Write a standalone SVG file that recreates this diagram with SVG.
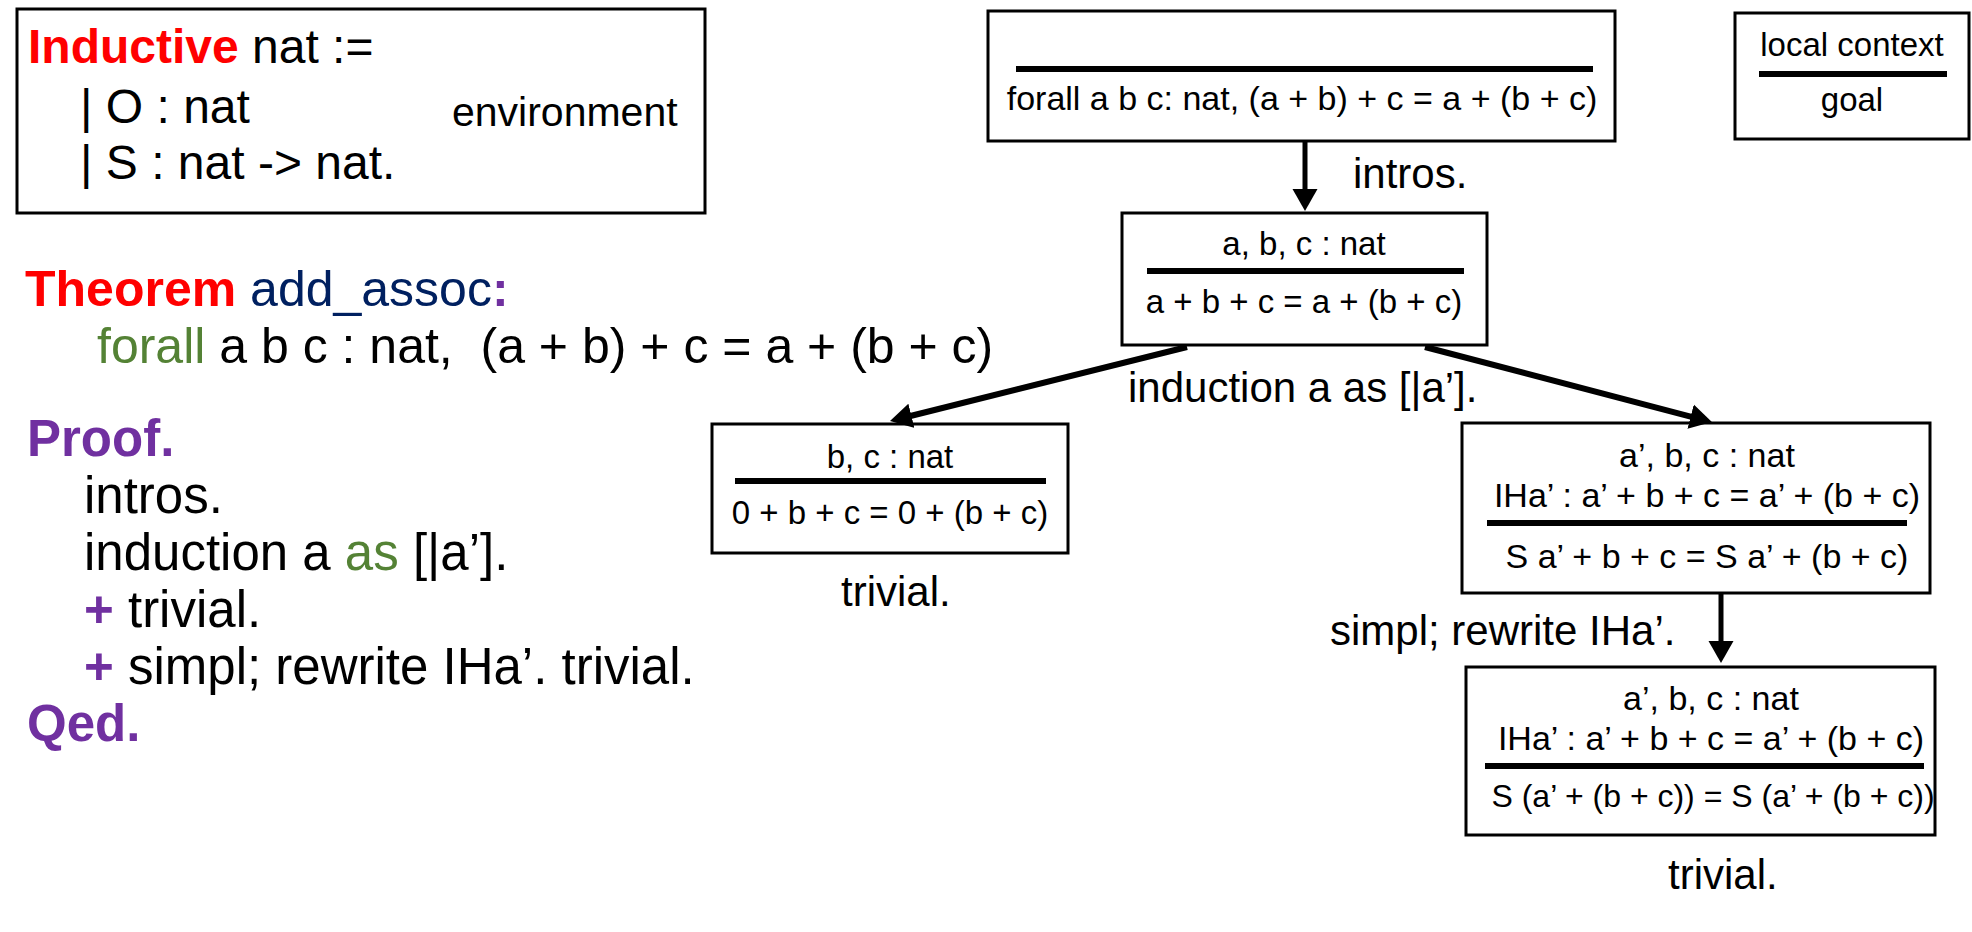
<svg xmlns="http://www.w3.org/2000/svg" width="1972" height="932" viewBox="0 0 1972 932">
<style>
  text { font-family: "Liberation Sans", Arial, sans-serif; fill: #000; }
  .env { font-size: 48px; }
  .envlbl { font-size: 41px; }
  .code { font-size: 51px; }
  .thm { font-size: 50px; }
  .box { fill: #fff; stroke: #000; stroke-width: 3; }
  .sep { stroke: #000; stroke-width: 6; }
  .bt { font-size: 33px; text-anchor: middle; }
  .bt2 { font-size: 34px; text-anchor: middle; }
  .lbl { font-size: 42px; }
  .red { fill: #FF0000; font-weight: bold; }
  .navy { fill: #002060; }
  .purple { fill: #7030A0; font-weight: bold; }
  .green { fill: #548235; }
  .edge { stroke: #000; fill: none; }
</style>
<defs>
  <marker id="ah" markerUnits="userSpaceOnUse" markerWidth="23" markerHeight="27" refX="1" refY="13" orient="auto">
    <path d="M0,0.5 L22,13 L0,25.5 z" fill="#000"/>
  </marker>
</defs>

<g id="environment">
  <rect class="box" x="17" y="9" width="688" height="204"/>
  <text class="env" x="28" y="63"><tspan class="red">Inductive</tspan> nat :=</text>
  <text class="env" x="80" y="123">| O : nat</text>
  <text class="env" x="80" y="179">| S : nat -&gt; nat.</text>
  <text class="envlbl" x="452" y="126">environment</text>
</g>

<g id="script">
  <text class="thm" x="25" y="306"><tspan class="red">Theorem</tspan> <tspan class="navy">add_assoc</tspan><tspan class="purple">:</tspan></text>
  <text class="thm" x="97" y="363"><tspan class="green">forall</tspan> a b c : nat,&#160; (a + b) + c = a + (b + c)</text>
  <text class="code" x="27" y="456"><tspan class="purple">Proof.</tspan></text>
  <text class="code" x="84" y="513">intros.</text>
  <text class="code" x="84" y="570">induction a <tspan class="green">as</tspan> [|a’].</text>
  <text class="code" x="84" y="627"><tspan class="purple">+</tspan> trivial.</text>
  <text class="code" x="84" y="684"><tspan class="purple">+</tspan> simpl; rewrite IHa’. trivial.</text>
  <text class="code" x="27" y="741"><tspan class="purple">Qed.</tspan></text>
</g>

<g id="legend">
  <rect class="box" x="1735" y="13" width="234" height="126"/>
  <text class="bt" x="1852" y="56">local context</text>
  <line class="sep" x1="1759" y1="74" x2="1947" y2="74"/>
  <text class="bt" x="1852" y="111">goal</text>
</g>

<g id="goal0">
  <rect class="box" x="988" y="11" width="627" height="130"/>
  <line class="sep" x1="1016" y1="69" x2="1593" y2="69"/>
  <text class="bt" x="1302" y="110" style="font-size:34px">forall a b c: nat, (a + b) + c = a + (b + c)</text>
</g>

<g id="goal1">
  <rect class="box" x="1122" y="213" width="365" height="132"/>
  <text class="bt" x="1304" y="255">a, b, c : nat</text>
  <line class="sep" x1="1147" y1="271" x2="1464" y2="271"/>
  <text class="bt" x="1304" y="313">a + b + c = a + (b + c)</text>
</g>

<g id="goal_base">
  <rect class="box" x="712" y="424" width="356" height="129"/>
  <text class="bt" x="890" y="468">b, c : nat</text>
  <line class="sep" x1="735" y1="481" x2="1046" y2="481"/>
  <text class="bt" x="890" y="524">0 + b + c = 0 + (b + c)</text>
</g>

<g id="goal_step">
  <rect class="box" x="1462" y="423" width="468" height="170"/>
  <text class="bt2" x="1707" y="467">a’, b, c : nat</text>
  <text class="bt2" x="1707" y="507">IHa’ : a’ + b + c = a’ + (b + c)</text>
  <line class="sep" x1="1487" y1="523" x2="1907" y2="523"/>
  <text class="bt2" x="1707" y="568">S a’ + b + c = S a’ + (b + c)</text>
</g>

<g id="goal_step2">
  <rect class="box" x="1466" y="667" width="469" height="168"/>
  <text class="bt2" x="1711" y="710">a’, b, c : nat</text>
  <text class="bt2" x="1711" y="750">IHa’ : a’ + b + c = a’ + (b + c)</text>
  <line class="sep" x1="1485" y1="766" x2="1924" y2="766"/>
  <text class="bt" x="1713" y="807" style="font-size:32px">S (a’ + (b + c)) = S (a’ + (b + c))</text>
</g>

<g id="connectors">
  <line class="edge" x1="1305" y1="141" x2="1305" y2="190" stroke-width="5" marker-end="url(#ah)"/>
  <line class="edge" x1="1187" y1="347" x2="910.4" y2="416" stroke-width="6" marker-end="url(#ah)"/>
  <line class="edge" x1="1425" y1="347" x2="1691.6" y2="416.8" stroke-width="6" marker-end="url(#ah)"/>
  <line class="edge" x1="1721" y1="593" x2="1721" y2="642" stroke-width="5" marker-end="url(#ah)"/>
</g>

<g id="labels">
  <text class="lbl" x="1353" y="188">intros.</text>
  <text class="lbl" x="1128" y="402">induction a as [|a’].</text>
  <text class="lbl" x="841" y="606">trivial.</text>
  <text class="lbl" x="1330" y="645">simpl; rewrite IHa’.</text>
  <text class="lbl" x="1668" y="889">trivial.</text>
</g>
</svg>
